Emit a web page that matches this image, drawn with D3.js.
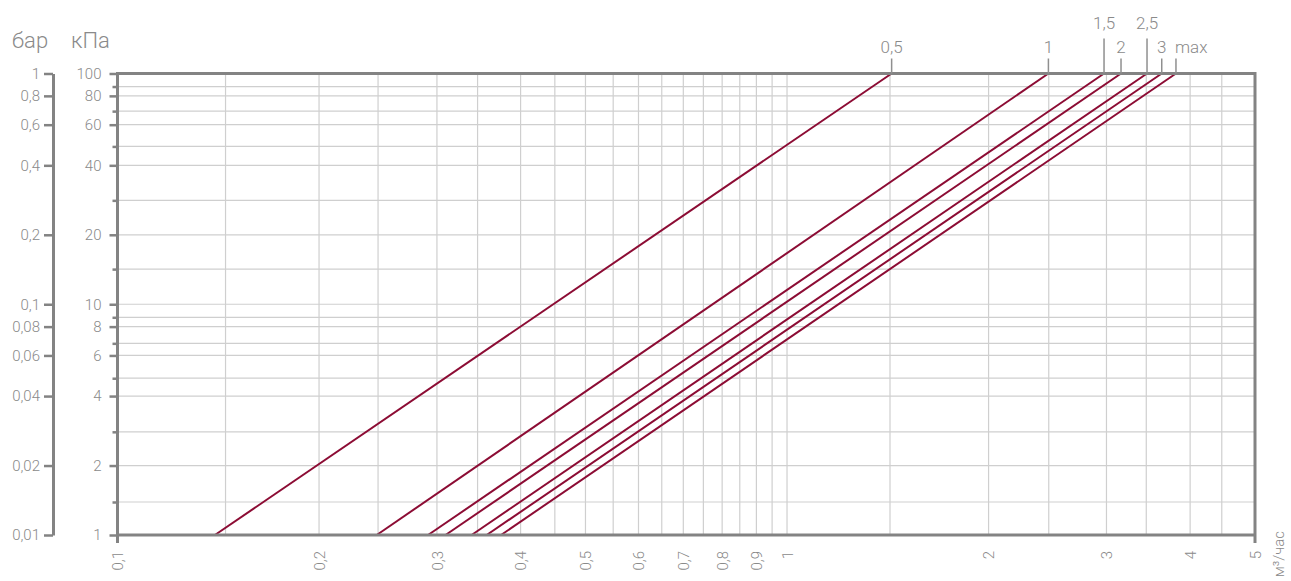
<!DOCTYPE html>
<html>
<head>
<meta charset="utf-8">
<script src="https://cdn.jsdelivr.net/npm/d3@7/dist/d3.min.js"></script>
<style>
  html, body { margin: 0; padding: 0; background: #ffffff; }
  svg { display: block; }
  text { font-family: Roboto, "Noto Sans", sans-serif; font-weight: 300; fill: #8a8a8a; }
</style>
</head>
<body>
<svg id="chart" width="1291" height="581"></svg>
<script>
// ---- data ----
const settings      = ["0,5", "1", "1,5", "2", "2,5", "3", "max"];
const flowAt1kPa    = [0.1398, 0.2439, 0.291, 0.309, 0.338, 0.356, 0.374];   // м³/час at 1 кПа
const flowAt100kPa  = [1.433, 2.457, 2.975, 3.154, 3.449, 3.628, 3.81];      // м³/час at 100 кПа
const raisedLabels  = ["1,5", "2,5"];

const xTickValues   = [0.1, 0.2, 0.3, 0.4, 0.5, 0.6, 0.7, 0.8, 0.9, 1, 2, 3, 4, 5];
const xGridValues   = [0.145, 0.2, 0.245, 0.3, 0.345, 0.4, 0.45, 0.5, 0.55, 0.6, 0.65, 0.7, 0.75, 0.8, 0.85, 0.9, 0.95, 1, 1.425, 2, 2.46, 3, 3.44, 4, 4.46];
const kPaTicks      = [1, 2, 4, 6, 8, 10, 20, 40, 60, 80, 100];
const kPaMinorTicks = [1.39, 2.8, 4.78, 6.77, 8.78, 14.2, 28.2, 48.3, 68.7, 87.8];
const barTicks      = [0.01, 0.02, 0.04, 0.06, 0.08, 0.1, 0.2, 0.4, 0.6, 0.8, 1];

const xUnit = "м³/час";
const barUnit = "бар";
const kPaUnit = "кПа";

// ---- styles ----
const AXIS = "#838383", GRID = "#cfcfcf", CURVE = "#8c0c34", TEXT = "#8a8a8a";
const fmt = v => String(v).replace(".", ",");

const svg = d3.select("#chart");
const x = d3.scaleLog().domain([0.1, 5]).range([117.5, 1255]);
const y = d3.scaleLog().domain([1, 100]).range([535, 73.5]);
const yBar = d3.scaleLog().domain([0.01, 1]).range([535, 73.5]);

// grid
const grid = svg.append("g");
grid.selectAll("line.v").data(xGridValues).join("line")
  .attr("x1", d => x(d)).attr("x2", d => x(d))
  .attr("y1", y(100)).attr("y2", y(1))
  .attr("stroke", GRID).attr("stroke-width", 1.2);
grid.selectAll("line.h").data(kPaTicks.concat(kPaMinorTicks).filter(d => d > 1 && d < 100)).join("line")
  .attr("x1", x(0.1)).attr("x2", x(5))
  .attr("y1", d => y(d)).attr("y2", d => y(d))
  .attr("stroke", GRID).attr("stroke-width", 1.2);

// curves
const line = d3.line().x(d => x(d.q)).y(d => y(d.p));
const curves = settings.map((s, i) => ({
  name: s,
  pts: [{ q: flowAt1kPa[i], p: 1 }, { q: flowAt100kPa[i], p: 100 }]
}));
svg.append("g").selectAll("path").data(curves).join("path")
  .attr("d", d => line(d.pts))
  .attr("fill", "none").attr("stroke", CURVE).attr("stroke-width", 2);

// frame
const frame = svg.append("g").attr("stroke", AXIS).attr("stroke-width", 3).attr("fill", "none");
frame.append("line").attr("x1", x(0.1)).attr("x2", x(5)).attr("y1", y(100)).attr("y2", y(100));
frame.append("line").attr("x1", x(0.1)).attr("x2", x(5)).attr("y1", y(1)).attr("y2", y(1));
frame.append("line").attr("x1", x(0.1)).attr("x2", x(0.1)).attr("y1", y(100) - 1.5).attr("y2", y(1) + 8);
frame.append("line").attr("x1", x(5)).attr("x2", x(5)).attr("y1", y(100) - 1.5).attr("y2", y(1) + 8);

// kPa axis
const kAxis = svg.append("g").attr("transform", `translate(${x(0.1)},0)`)
  .call(d3.axisLeft(y).tickValues(kPaTicks).tickSize(8).tickPadding(8).tickSizeOuter(0).tickFormat(fmt));
kAxis.select(".domain").remove();
kAxis.selectAll("line").attr("stroke", AXIS).attr("stroke-width", 2.5);
kAxis.selectAll("text").attr("font-size", 15).style("fill", TEXT).attr("font-family", "Roboto").attr("font-weight", 300);
const kMinor = svg.append("g").attr("transform", `translate(${x(0.1)},0)`)
  .call(d3.axisLeft(y).tickValues(kPaMinorTicks).tickSize(5).tickSizeOuter(0).tickFormat(""));
kMinor.select(".domain").remove();
kMinor.selectAll("line").attr("stroke", AXIS).attr("stroke-width", 2.5);

// bar axis
const bAxis = svg.append("g").attr("transform", "translate(53,0)")
  .call(d3.axisLeft(yBar).tickValues(barTicks).tickSize(9).tickPadding(4).tickSizeOuter(0).tickFormat(fmt));
bAxis.select(".domain").attr("stroke", AXIS).attr("stroke-width", 3);
bAxis.selectAll(".tick line").attr("stroke", AXIS).attr("stroke-width", 2.5);
bAxis.selectAll("text").attr("font-size", 15).style("fill", TEXT).attr("font-family", "Roboto").attr("font-weight", 300);

// x axis labels
const xAxis = svg.append("g").attr("transform", `translate(0,${y(1)})`)
  .call(d3.axisBottom(x).tickValues(xTickValues).tickSize(0).tickFormat(fmt));
xAxis.select(".domain").remove();
xAxis.selectAll("text")
  .attr("transform", "rotate(-90)")
  .attr("x", -16).attr("y", 0).attr("dy", "0.35em")
  .attr("text-anchor", "end")
  .attr("font-size", 15).style("fill", TEXT).attr("font-family", "Roboto").attr("font-weight", 300);

// unit labels
svg.append("text").attr("x", 12).attr("y", 48).attr("font-size", 22).text(barUnit);
svg.append("text").attr("x", 71).attr("y", 48).attr("font-size", 22).text(kPaUnit);
svg.append("text")
  .attr("transform", `translate(${x(5) + 29},${y(1) - 4}) rotate(-90)`)
  .attr("text-anchor", "end").attr("font-size", 15).text(xUnit);

// curve labels
const lab = svg.append("g").selectAll("g").data(curves).join("g")
  .attr("transform", d => `translate(${x(d.pts[1].q)},${y(100)})`);
lab.append("line")
  .attr("x1", 0).attr("x2", 0).attr("y1", 0)
  .attr("y2", d => raisedLabels.includes(d.name) ? -35 : -15)
  .attr("stroke", "#8f8f8f").attr("stroke-width", 1.5);
lab.append("text")
  .attr("x", d => d.name === "max" ? -1 : 0)
  .attr("y", d => raisedLabels.includes(d.name) ? -45 : -21)
  .attr("text-anchor", d => d.name === "max" ? "start" : "middle")
  .attr("font-size", 17)
  .text(d => d.name);
</script>
</body>
</html>
